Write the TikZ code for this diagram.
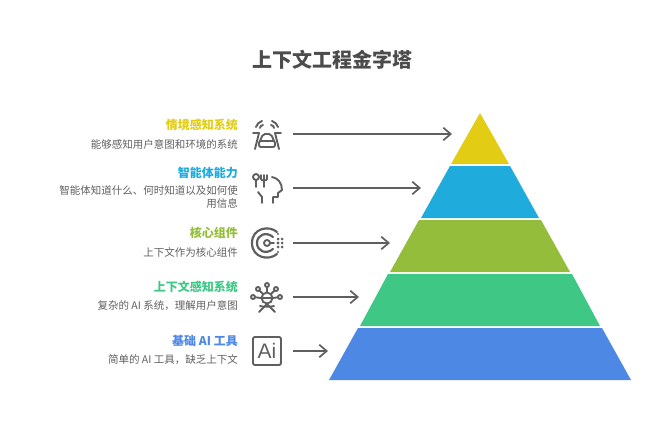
\documentclass[tikz,border=0pt]{standalone}
\usepackage{fontspec}
\setmainfont{Noto Sans CJK SC}
\newfontfamily\latinfont{Liberation Sans}
\usetikzlibrary{arrows.meta}
\definecolor{cyellow}{HTML}{E2CD14}
\definecolor{cblue}{HTML}{1FABDC}
\definecolor{cgreen}{HTML}{94BD3B}
\definecolor{cmint}{HTML}{3EC785}
\definecolor{croyal}{HTML}{4D88E5}
\definecolor{cink}{HTML}{5F5F5F}

\begin{document}
\begin{tikzpicture}[x=1pt, y=-1pt, >={Straight Barb[length=2.6mm,width=4.4mm,line width=1.7pt]},
	head/.style={anchor=east, inner sep=0pt, font=\fontsize{12}{14}\selectfont\bfseries},
	desc/.style={anchor=east, align=right, text=cink, inner sep=0pt, font=\fontsize{10.5}{13}\selectfont},
	link/.style={draw=cink, line width=1.9pt, ->},
	icon/.style={draw=cink, line width=1.9pt, line cap=round, line join=round}]
	\useasboundingbox (0,0) rectangle (664,447);
	\node[font=\fontsize{20}{24}\selectfont\bfseries, text=black!70] (title) at (332,60) {上下文工程金字塔};
	% pyramid
	\fill[cyellow] (480,113) -- (509,164) -- (451,164) -- cycle;
	\fill[cblue] (450,166) -- (510,166) -- (539,218) -- (421,218) -- cycle;
	\fill[cgreen] (419,220) -- (541,220) -- (570,272) -- (390,272) -- cycle;
	\fill[cmint] (388,274) -- (572,274) -- (600,326) -- (360,326) -- cycle;
	\fill[croyal] (358,328) -- (602,328) -- (631,380) -- (329,380) -- cycle;
	% arrows
	\foreach \i/\y/\x in {1/134/452, 2/188/421, 3/243/390, 4/297/359, 5/351/328} {
		\coordinate (s\i) at (293,\y);
		\coordinate (t\i) at (\x,\y);
		\draw[link] (s\i) -- (t\i);
	}
	% labels
	\node[head, text=cyellow] (h1) at (238,125) {情境感知系统};
	\node[desc] (d1) at (238,144) {能够感知用户意图和环境的系统};
	\node[head, text=cblue] (h2) at (238,173) {智能体能力};
	\node[desc] (d2) at (238,197.5) {智能体知道什么、何时知道以及如何使\\用信息};
	\node[head, text=cgreen] (h3) at (238,233) {核心组件};
	\node[desc] (d3) at (238,252) {上下文作为核心组件};
	\node[head, text=cmint] (h4) at (238,287) {上下文感知系统};
	\node[desc] (d4) at (238,306) {复杂的 AI 系统，理解用户意图};
	\node[head, text=croyal] (h5) at (238,341) {基础 AI 工具};
	\node[desc] (d5) at (238,360) {简单的 AI 工具，缺乏上下文};
	% icon: car
	\draw[icon] (253,133) -- (259,133) -- (255,149);
	\draw[icon] (281,133) -- (275,133) -- (279,149);
	\draw[icon, rounded corners=2pt] (260,141) -- (263,134) -- (271,134) -- (274,141);
	\draw[icon, rounded corners=2pt] (259,141) rectangle (275,147);
	\draw[icon] (256,127) .. controls (257,124) and (259,122) .. (262,121);
	\draw[icon] (260,128) .. controls (260,127) and (261,125) .. (263,125);
	\draw[icon] (278,127) .. controls (277,124) and (275,122) .. (272,121);
	\draw[icon] (274,128) .. controls (274,127) and (273,125) .. (271,125);
	% icon: head
	\draw[icon] (256,177) circle (3);
	\draw[icon] (256,180) -- (256,187);
	\draw[icon] (261,175) -- (261,179) .. controls (261,181) and (267,181) .. (267,179) -- (267,175);
	\draw[icon] (264,175) -- (264,187);
	\draw[icon] (272,177) .. controls (278,178) and (282,183) .. (282,190) -- (278,193) -- (278,197) -- (273,197) -- (273,203);
	\draw[icon] (258,192) -- (262,197) -- (262,203);
	% icon: ring
	\draw[icon, line width=2.2pt] (277,232) .. controls (269,225) and (252,228) .. (252,243) .. controls (252,258) and (269,261) .. (277,254);
	\draw[icon, line width=2.2pt] (273,237) .. controls (266,231) and (257,235) .. (257,243) .. controls (257,251) and (266,255) .. (273,249);
	\draw[icon] (267,243) circle (3);
	\draw[icon] (270,243) -- (274,243);
	\foreach \dx/\dy/\r in {278/239/1.5, 282/239/1.5, 278/243/1.7, 282/243/1.5, 278/247/1.5, 282/247/1.5, 278/234/1.2, 278/252/1.2} {
		\fill[cink] (\dx,\dy) circle (\r);
	}
	% icon: network
	\foreach \dx/\dy/\ex/\ey in {267/285/267/292, 258/289/263/294, 276/289/271/294, 253/297/261/298, 280/297/273/298} {
		\draw[icon] (\ex,\ey) -- (\dx,\dy);
		\draw[icon, fill=white] (\dx,\dy) circle (2);
	}
	\draw[icon] (267,298) circle (5.5);
	\draw[icon] (262,298) -- (272,298);
	\draw[icon] (267,304) -- (259,312) (267,304) -- (275,312);
	\draw[icon] (260,306) .. controls (263,307) and (271,307) .. (274,306);
	% icon: ai
	\draw[icon, rounded corners=2pt] (253,337) rectangle (281,365);
	\node[text=cink, font=\fontsize{21}{22}\latinfont\selectfont, inner sep=0pt] (ai) at (267,351) {Ai};
\end{tikzpicture}
\end{document}
